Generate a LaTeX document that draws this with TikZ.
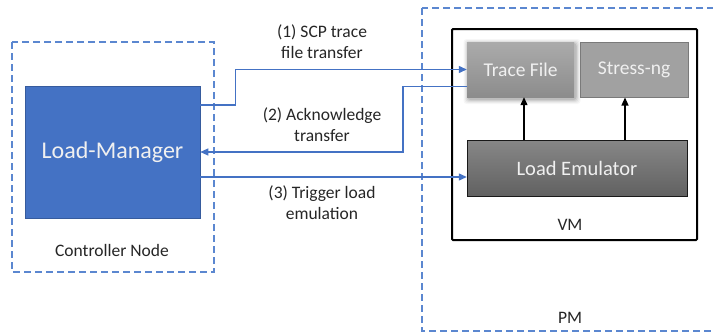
\documentclass[tikz,border=0pt]{standalone}
\usepackage{fontspec}
\setmainfont{Carlito}
\usetikzlibrary{arrows.meta,calc}
\definecolor{msblue}{HTML}{4472C4}
\definecolor{dashblue}{HTML}{5B87D0}
\definecolor{txtgray}{HTML}{262626}
\tikzset{
  zone/.style={draw=dashblue, line width=1.1pt, dash pattern=on 7pt off 4pt},
  flow/.style={draw=msblue, line width=1.2pt, -{Triangle[length=8pt,width=7pt]}},
  uparrow/.style={draw=black, line width=1.2pt, -{Triangle[length=8pt,width=7pt]}},
  lbl/.style={font=\fontsize{17.5}{21}\selectfont, text=txtgray, align=center},
  boxtxt/.style={font=\fontsize{19.5}{22}\selectfont, text=white!94!black},
}
\begin{document}
\begin{tikzpicture}[x=1pt,y=-1pt]
  \clip (0,0) rectangle (713,332);
  \fill[white] (0,0) rectangle (713,332);

  % controller side
  \draw[zone] (12,42) rectangle (214,272);
  \node[fill=msblue, draw=msblue!80!black, line width=0.6pt, minimum width=175pt, minimum height=132pt,
        inner sep=0pt, font=\fontsize{24}{28}\selectfont, text=white!94!black] (lm) at (112.5,152) {Load-Manager};
  \node[lbl] (cn) at (112,250) {Controller Node};

  % physical machine and virtual machine
  \draw[zone] (422,8) rectangle (740,331);
  \node[lbl] (pm) at (570,318) {PM};
  \draw[line width=2pt, rounded corners=1pt] (452,29) rectangle (697,240);
  \node[lbl] (vm) at (570,225) {VM};

  % trace file with a soft shadow
  \foreach \g/\o in {5/0.03,4/0.04,3/0.05,2/0.07,1/0.09}{
    \fill[black, opacity=\o, rounded corners=3pt]
      (467-\g+1.5,42-\g+2) rectangle (574+\g+1.5,97+\g+2);
  }
  \shade[top color=black!33, bottom color=black!45] (467,42) rectangle (574,97);
  \node[boxtxt, minimum width=107pt, minimum height=55pt, inner sep=0pt] (tf) at (520.5,69.5) {Trace File};

  \node[boxtxt, fill=black!37, draw=black!52, line width=1pt, minimum width=108pt, minimum height=55pt,
        inner sep=0pt] (sn) at (634,69.5) {Stress-ng};

  \shade[top color=black!47, bottom color=black!62] (467,140) rectangle (687,196);
  \draw[black!90, line width=1pt] (467,140) rectangle (687,196);
  \node[font=\fontsize{20.5}{24}\selectfont, text=white!94!black, minimum width=220pt, minimum height=56pt,
        inner sep=0pt] (le) at (577,168) {Load Emulator};

  % emulator to its inputs
  \draw[uparrow] ([xshift=3.5pt]tf.south |- le.north) -- ([xshift=3.5pt]tf.south);
  \draw[uparrow] ([xshift=-9pt]sn.south |- le.north) -- ([xshift=-9pt]sn.south);

  % message flows
  \coordinate (s1) at ([yshift=47pt]lm.east);
  \draw[flow] (s1) -- ++(35,0) |- (tf.west);
  \coordinate (s2) at ([yshift=-17pt]tf.west);
  \coordinate (b2) at (403,0);
  \draw[flow] (s2) -| (b2 |- lm.east) -- (lm.east);
  \coordinate (s3) at ([yshift=-25pt]lm.east);
  \draw[flow] (s3) -- (s3 -| le.west);

  \node[lbl] (l1) at (322,42) {(1) SCP trace\\file transfer};
  \node[lbl] (l2) at (322,125) {(2) Acknowledge\\transfer};
  \node[lbl] (l3) at (322,203) {(3) Trigger load\\emulation};
\end{tikzpicture}
\end{document}
